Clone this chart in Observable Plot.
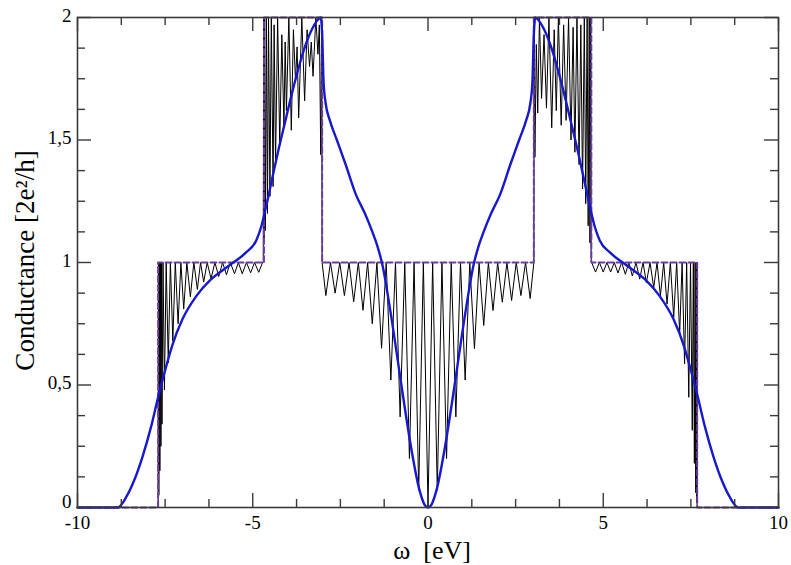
<!DOCTYPE html>
<html><head><meta charset="utf-8">
<script src="https://cdn.jsdelivr.net/npm/d3@7"></script>
<script src="https://cdn.jsdelivr.net/npm/@observablehq/plot@0.6"></script>
<style>
html,body{margin:0;padding:0;background:#fff}
#chart svg{display:block}
#chart svg text{font-family:"Liberation Serif","DejaVu Serif","Times New Roman",serif !important}
</style>
</head><body><div id="chart"></div>
<script>
// ---- tick values and labels ----
const xMajorTicks = [-10, -5, 0, 5, 10];
const xTickLabels = ["-10", "-5", "0", "5", "10"];
const xMinorTicks = [-8.75, -7.5, -6.25, -3.75, -2.5, -1.25, 1.25, 2.5, 3.75, 6.25, 7.5, 8.75];
const yMajorTicks = [0, 0.5, 1, 1.5, 2];
const yTickLabels = ["0", "0,5", "1", "1,5", "2"];
const yMinorTicks = [0.125, 0.25, 0.375, 0.625, 0.75, 0.875, 1.125, 1.25, 1.375, 1.625, 1.75, 1.875];
const xTitle = "ω\u00a0 [eV]";
const yTitle = "Conductance [2e²/h]";

// ---- purple dashed step (ideal conductance) ----
const stepOmega = [-10, -7.7, -4.68, -3.02, 3.02, 4.66, 7.68, 10];
const stepG     = [0, 1, 2, 1, 2, 1, 0, 0];

// ---- blue smooth curve ----
const blueOmega = [-10, -8.85, -8.6, -8.4, -8.15, -7.9, -7.7, -7.5, -7.3, -7.0, -6.6, -6.2, -5.7, -5.2, -4.9, -4.75, -4.6, -4.45, -4.25, -4.05, -3.9, -3.7, -3.5, -3.3, -3.15, -3.06, -3.02, -2.98, -2.92, -2.8, -2.6, -2.35, -2.05, -1.8, -1.6, -1.45, -1.3, -1.05, -0.78, -0.5, -0.25, -0.1, 0, 0.1, 0.25, 0.5, 0.78, 1.05, 1.3, 1.45, 1.6, 1.8, 2.05, 2.35, 2.6, 2.8, 2.92, 2.98, 3.02, 3.06, 3.15, 3.3, 3.5, 3.7, 3.9, 4.05, 4.25, 4.45, 4.6, 4.75, 4.9, 5.2, 5.7, 6.2, 6.6, 7.0, 7.3, 7.5, 7.7, 7.9, 8.15, 8.4, 8.6, 8.85, 10];
const blueG = [0, 0, 0.045, 0.105, 0.205, 0.33, 0.45, 0.56, 0.66, 0.77, 0.865, 0.93, 0.985, 1.04, 1.09, 1.15, 1.24, 1.34, 1.47, 1.59, 1.68, 1.79, 1.885, 1.955, 1.99, 2.0, 1.93, 1.74, 1.65, 1.58, 1.50, 1.40, 1.275, 1.2, 1.13, 1.07, 0.99, 0.78, 0.52, 0.26, 0.075, 0.012, 0, 0.012, 0.075, 0.26, 0.52, 0.78, 0.99, 1.07, 1.13, 1.2, 1.275, 1.40, 1.50, 1.58, 1.65, 1.74, 1.93, 2.0, 1.99, 1.955, 1.885, 1.79, 1.68, 1.59, 1.47, 1.34, 1.24, 1.15, 1.09, 1.04, 0.985, 0.93, 0.865, 0.77, 0.66, 0.56, 0.45, 0.33, 0.205, 0.105, 0.045, 0, 0];

// ---- black oscillating curve, read segment by segment ----
const blackLeftOuterOmega = [-10, -7.70, -7.69, -7.68, -7.665, -7.65, -7.635, -7.62, -7.605, -7.59, -7.56, -7.52, -7.47, -7.41, -7.35, -7.28, -7.21, -7.13, -7.05, -6.97, -6.88, -6.78, -6.68, -6.58, -6.49, -6.40, -6.30, -6.19, -6.08, -5.97, -5.86, -5.75, -5.64, -5.52, -5.41, -5.30, -5.18, -5.06, -4.95, -4.83, -4.72];
const blackLeftOuterG     = [0, 0, 1, 0.05, 1, 0.15, 1, 0.25, 1, 0.34, 1, 0.48, 1, 0.59, 1, 0.68, 1, 0.75, 1, 0.81, 1, 0.86, 1, 0.89, 1, 0.92, 1, 0.934, 1, 0.943, 1, 0.95, 1, 0.954, 1, 0.954, 1, 0.958, 1, 0.96, 1];
const blackLeftInnerOmega = [-4.70, -4.69, -4.675, -4.66, -4.64, -4.61, -4.58, -4.55, -4.51, -4.47, -4.42, -4.39, -4.35, -4.29, -4.23, -4.17, -4.11, -4.075, -4.04, -3.97, -3.90, -3.84, -3.78, -3.735, -3.69, -3.60, -3.52, -3.45, -3.38, -3.33, -3.28, -3.20, -3.14, -3.10, -3.06, -3.035];
const blackLeftInnerG     = [1, 2, 1.10, 2, 1.13, 2, 1.2, 2, 1.27, 2, 1.31, 1.97, 1.40, 2, 1.48, 1.93, 1.55, 1.9, 1.62, 2, 1.54, 1.95, 1.74, 1.88, 1.59, 2, 1.66, 1.95, 1.80, 1.90, 1.76, 2, 1.85, 1.97, 1.44, 2];
const blackCenterOmega = [-3.02, -2.915, -2.7825, -2.65, -2.5175, -2.385, -2.2525, -2.12, -1.9875, -1.855, -1.7225, -1.59, -1.4575, -1.325, -1.1925, -1.06, -0.9275, -0.795, -0.6625, -0.53, -0.3975, -0.265, -0.1325, 0, 0.1325, 0.265, 0.3975, 0.53, 0.6625, 0.795, 0.9275, 1.06, 1.1925, 1.325, 1.4575, 1.59, 1.7225, 1.855, 1.9875, 2.12, 2.2525, 2.385, 2.5175, 2.65, 2.7825, 2.915, 3.02];
const blackCenterG     = [1, 0.865, 1, 0.875, 1, 0.865, 1, 0.84, 1, 0.805, 1, 0.75, 1, 0.65, 1, 0.52, 1, 0.37, 1, 0.20, 1, 0.07, 1, 0.005, 1, 0.07, 1, 0.2, 1, 0.37, 1, 0.52, 1, 0.648, 1, 0.743, 1, 0.804, 1, 0.838, 1, 0.845, 1, 0.865, 1, 0.853, 1];
const blackRightInnerOmega = [3.03, 3.05, 3.09, 3.13, 3.18, 3.24, 3.31, 3.38, 3.45, 3.53, 3.60, 3.66, 3.72, 3.80, 3.87, 3.94, 4.01, 4.08, 4.14, 4.19, 4.25, 4.31, 4.36, 4.41, 4.46, 4.50, 4.54, 4.57, 4.60, 4.62, 4.64, 4.655, 4.665];
const blackRightInnerG     = [2, 1.43, 1.89, 1.61, 2, 1.67, 1.93, 1.63, 2, 1.55, 1.95, 1.62, 2, 1.56, 1.97, 1.58, 2, 1.50, 1.96, 1.45, 2, 1.40, 1.97, 1.30, 2, 1.24, 2, 1.15, 2, 1.08, 2, 1.02, 1];
const blackRightOuterOmega = [4.67, 4.78, 4.89, 5.00, 5.105, 5.21, 5.315, 5.42, 5.525, 5.63, 5.73, 5.83, 5.935, 6.04, 6.135, 6.23, 6.335, 6.44, 6.535, 6.63, 6.725, 6.82, 6.915, 7.01, 7.095, 7.18, 7.25, 7.32, 7.38, 7.44, 7.49, 7.54, 7.57, 7.60, 7.62, 7.64, 7.655, 7.665, 7.675, 7.68, 10];
const blackRightOuterG     = [1, 0.961, 1, 0.961, 1, 0.961, 1, 0.957, 1, 0.952, 1, 0.945, 1, 0.932, 1, 0.918, 1, 0.898, 1, 0.864, 1, 0.83, 1, 0.776, 1, 0.708, 1, 0.586, 1, 0.45, 1, 0.315, 1, 0.18, 1, 0.06, 1, 0.02, 1, 0, 0];

// ---- build tables ----
const zip = (xs, ys) => xs.map((x, i) => ({omega: x, g: ys[i]}));
const blackData = [
  ...zip(blackLeftOuterOmega, blackLeftOuterG),
  ...zip(blackLeftInnerOmega, blackLeftInnerG),
  ...zip(blackCenterOmega, blackCenterG),
  ...zip(blackRightInnerOmega, blackRightInnerG),
  ...zip(blackRightOuterOmega, blackRightOuterG)
];
const stepData = zip(stepOmega, stepG);
const blueData = zip(blueOmega, blueG);

const W = 791, H = 565, ML = 77, MR = 13, MT = 17, MB = 58;
const FW = W - ML - MR, FH = H - MT - MB;
const serif = "Liberation Serif";
const axisColor = "#3a3a3a";
const MAJ = 14, MIN = 8;
const yLabel = d => yTickLabels[yMajorTicks.indexOf(d)];

const chart = Plot.plot({
  width: W, height: H,
  marginLeft: ML, marginRight: MR, marginTop: MT, marginBottom: MB,
  style: {fontFamily: serif, background: "#fff", color: "#000"},
  x: {domain: [-10, 10], label: null},
  y: {domain: [0, 2], label: null},
  marks: [
    Plot.line(blackData, {x: "omega", y: "g", stroke: "#000", strokeWidth: 1}),
    Plot.line(stepData, {x: "omega", y: "g", curve: "step-after", stroke: "#6b3e9e", strokeWidth: 2, strokeDasharray: "6,3"}),
    Plot.line(blueData, {x: "omega", y: "g", curve: "monotone-x", stroke: "#1818cc", strokeWidth: 2.4}),
    // inward ticks on all four sides
    Plot.tickX(xMajorTicks, {x: d => d, insetTop: FH - MAJ, stroke: axisColor, strokeWidth: 1.4}),
    Plot.tickX(xMinorTicks, {x: d => d, insetTop: FH - MIN, stroke: axisColor, strokeWidth: 1.4}),
    Plot.tickX(xMajorTicks, {x: d => d, insetBottom: FH - MAJ, stroke: axisColor, strokeWidth: 1.4}),
    Plot.tickX(xMinorTicks, {x: d => d, insetBottom: FH - MIN, stroke: axisColor, strokeWidth: 1.4}),
    Plot.tickY(yMajorTicks, {y: d => d, insetRight: FW - MAJ, stroke: axisColor, strokeWidth: 1.4}),
    Plot.tickY(yMinorTicks, {y: d => d, insetRight: FW - MIN, stroke: axisColor, strokeWidth: 1.4}),
    Plot.tickY(yMajorTicks, {y: d => d, insetLeft: FW - MAJ, stroke: axisColor, strokeWidth: 1.4}),
    Plot.tickY(yMinorTicks, {y: d => d, insetLeft: FW - MIN, stroke: axisColor, strokeWidth: 1.4}),
    Plot.frame({stroke: axisColor, strokeWidth: 1.6}),
    Plot.axisX({ticks: xMajorTicks, tickSize: 0, tickPadding: 8, fontSize: 19, fontFamily: serif,
      tickFormat: d => xTickLabels[xMajorTicks.indexOf(d)], label: null}),
    Plot.axisY({ticks: yMajorTicks.slice(1), tickSize: 0, tickPadding: 6, fontSize: 19, fontFamily: serif, dy: -2,
      tickFormat: yLabel, label: null}),
    Plot.axisY({ticks: yMajorTicks.slice(0, 1), tickSize: 0, tickPadding: 6, fontSize: 19, fontFamily: serif, dy: -6,
      tickFormat: yLabel, label: null}),
    Plot.text([xTitle], {text: d => d, frameAnchor: "bottom", textAnchor: "middle", lineAnchor: "middle", dy: 43, dx: 4, fontSize: 26, fontFamily: serif, fill: "#000"}),
    Plot.text([yTitle], {text: d => d, frameAnchor: "left", textAnchor: "middle", lineAnchor: "middle", dx: -52, dy: -2, rotate: -90, fontSize: 27, fontFamily: serif, fill: "#000"})
  ]
});
document.getElementById("chart").appendChild(chart);
</script>
</body></html>
